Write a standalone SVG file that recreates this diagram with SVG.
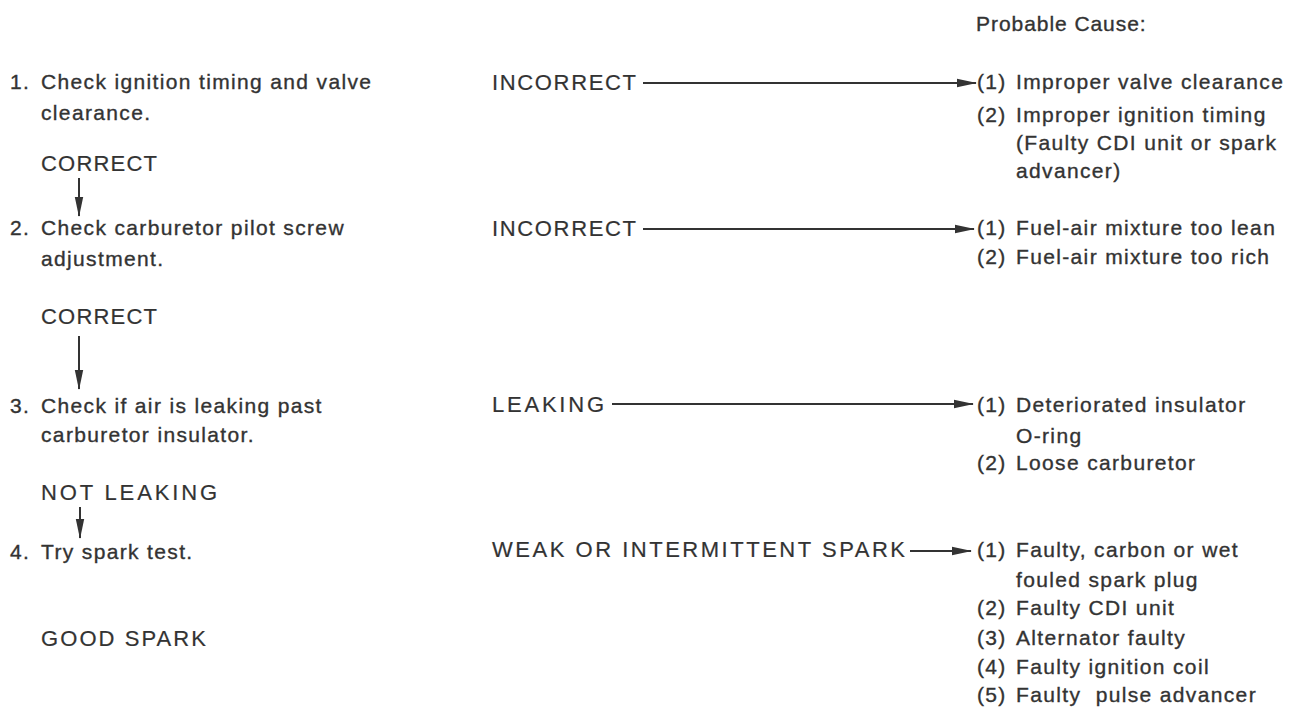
<svg xmlns="http://www.w3.org/2000/svg" width="1301" height="707" viewBox="0 0 1301 707">
<defs>
<marker id="ah" markerWidth="20" markerHeight="10" refX="19" refY="5" orient="auto" markerUnits="userSpaceOnUse"><path d="M0,0.8 L20,5 L0,9.2 Z" fill="#333"/></marker>
</defs>
<style>
text{font-family:"Liberation Sans",Arial,sans-serif;font-size:21px;fill:#333;stroke:#333;stroke-width:0.35;letter-spacing:1.35px}
text.cap{font-size:22px;letter-spacing:0;stroke-width:0.2}
.c{stroke:#333;stroke-width:2;fill:none}
</style>
<rect width="1301" height="707" fill="#fff"/>
<g id="connectors">
<line class="c" x1="79" y1="178" x2="79" y2="216" marker-end="url(#ah)"/>
<line class="c" x1="79" y1="336" x2="79" y2="389" marker-end="url(#ah)"/>
<line class="c" x1="80" y1="507" x2="80" y2="538" marker-end="url(#ah)"/>
<line class="c" x1="643" y1="83" x2="976" y2="83" marker-end="url(#ah)"/>
<line class="c" x1="643" y1="229" x2="974" y2="229" marker-end="url(#ah)"/>
<line class="c" x1="612" y1="404" x2="973" y2="404" marker-end="url(#ah)"/>
<line class="c" x1="910" y1="551" x2="971" y2="551" marker-end="url(#ah)"/>
</g>
<g id="header"><text x="976" y="31" textLength="171" lengthAdjust="spacing">Probable Cause:</text></g>
<g id="step1">
<text x="10" y="89">1.</text>
<text x="41" y="89">Check ignition timing and valve</text>
<text x="41" y="120">clearance.</text>
</g>
<g id="correct1"><text class="cap" x="41" y="171" textLength="116" lengthAdjust="spacing">CORRECT</text></g>
<g id="step2">
<text x="10" y="235">2.</text>
<text x="41" y="235">Check carburetor pilot screw</text>
<text x="41" y="266">adjustment.</text>
</g>
<g id="correct2"><text class="cap" x="41" y="324" textLength="116" lengthAdjust="spacing">CORRECT</text></g>
<g id="step3">
<text x="10" y="413">3.</text>
<text x="41" y="413">Check if air is leaking past</text>
<text x="41" y="442">carburetor insulator.</text>
</g>
<g id="notleaking"><text class="cap" x="41" y="500" textLength="176" lengthAdjust="spacing">NOT LEAKING</text></g>
<g id="step4">
<text x="10" y="559">4.</text>
<text x="41" y="559">Try spark test.</text>
</g>
<g id="goodspark"><text class="cap" x="41" y="646" textLength="165" lengthAdjust="spacing">GOOD SPARK</text></g>
<g id="incorrect1"><text class="cap" x="492" y="90" textLength="144" lengthAdjust="spacing">INCORRECT</text></g>
<g id="incorrect2"><text class="cap" x="492" y="236" textLength="144" lengthAdjust="spacing">INCORRECT</text></g>
<g id="leaking"><text class="cap" x="492" y="412" textLength="112" lengthAdjust="spacing">LEAKING</text></g>
<g id="weakspark"><text class="cap" x="492" y="557" textLength="413" lengthAdjust="spacing">WEAK OR INTERMITTENT SPARK</text></g>
<g id="causes1">
<text x="977" y="89">(1)</text><text x="1016" y="89">Improper valve clearance</text>
<text x="977" y="122">(2)</text><text x="1016" y="122">Improper ignition timing</text>
<text x="1016" y="150">(Faulty CDI unit or spark</text>
<text x="1016" y="178">advancer)</text>
</g>
<g id="causes2">
<text x="977" y="235">(1)</text><text x="1016" y="235">Fuel-air mixture too lean</text>
<text x="977" y="264">(2)</text><text x="1016" y="264">Fuel-air mixture too rich</text>
</g>
<g id="causes3">
<text x="977" y="412">(1)</text><text x="1016" y="412">Deteriorated insulator</text>
<text x="1016" y="443">O-ring</text>
<text x="977" y="470">(2)</text><text x="1016" y="470">Loose carburetor</text>
</g>
<g id="causes4">
<text x="977" y="557">(1)</text><text x="1016" y="557">Faulty, carbon or wet</text>
<text x="1016" y="587">fouled spark plug</text>
<text x="977" y="615">(2)</text><text x="1016" y="615">Faulty CDI unit</text>
<text x="977" y="645">(3)</text><text x="1016" y="645">Alternator faulty</text>
<text x="977" y="674">(4)</text><text x="1016" y="674">Faulty ignition coil</text>
<text x="977" y="702">(5)</text><text x="1016" y="702" xml:space="preserve" style="white-space:pre">Faulty  pulse advancer</text>
</g>
</svg>
